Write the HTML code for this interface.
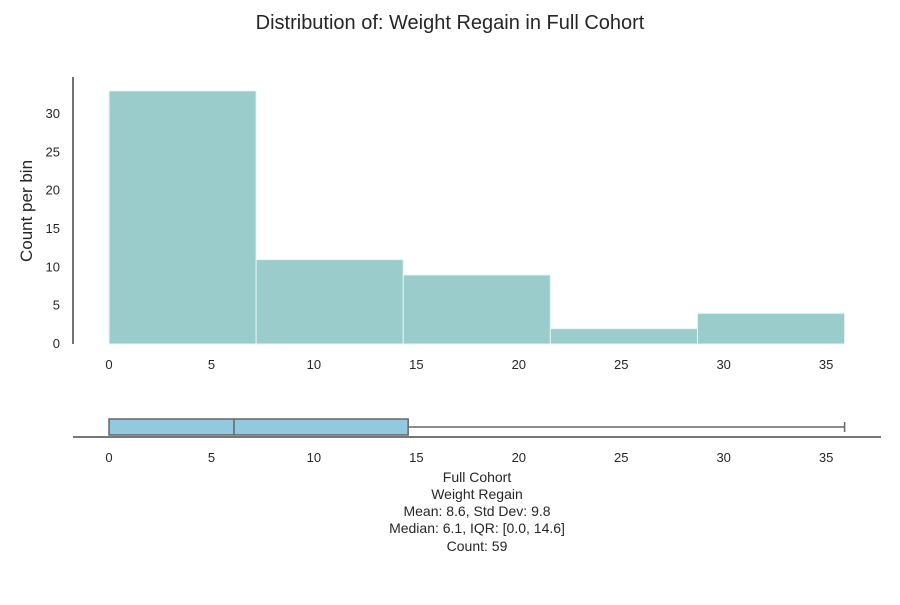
<!DOCTYPE html>
<html><head><meta charset="utf-8"><style>
body{margin:0;background:#fff;}
svg text{font-family:"Liberation Sans",Arial,sans-serif;fill:#262626;}
</style></head><body>
<svg id="chart" width="900" height="600" viewBox="0 0 900 600">
<rect width="900" height="600" fill="#fff"/>
<text x="450" y="29" font-size="20" text-anchor="middle">Distribution of: Weight Regain in Full Cohort</text>
<g id="hist"></g>
<g id="box"></g>
<g font-size="14" text-anchor="middle">
<text x="477" y="482">Full Cohort</text>
<text x="477" y="499">Weight Regain</text>
<text x="477" y="516">Mean: 8.6, Std Dev: 9.8</text>
<text x="477" y="533">Median: 6.1, IQR: [0.0, 14.6]</text>
<text x="477" y="551">Count: 59</text>
</g>
</svg>
<script>
const binEdges=[0,7.18,14.36,21.54,28.72,35.9];
const counts=[33,11,9,2,4];
const xTicks=[0,5,10,15,20,25,30,35];
const yTicks=[0,5,10,15,20,25,30];
const boxStats=[0,6.1,14.6,35.9]; // q1, median, q3, max
const minVal=[0];
const NS="http://www.w3.org/2000/svg";
const sx=v=>109+v*20.49;
const sy=v=>344-v*7.67;
function mk(p,tag,attrs,txt){const e=document.createElementNS(NS,tag);for(const k in attrs)e.setAttribute(k,attrs[k]);if(txt!==undefined)e.textContent=txt;p.appendChild(e);return e;}
const h=document.getElementById('hist');
counts.forEach((c,i)=>{
 const r=mk(h,'rect',{x:sx(binEdges[i]),y:sy(c),width:sx(binEdges[i+1])-sx(binEdges[i]),height:sy(0)-sy(c),fill:'#9acccc',stroke:'#e8f4f4','stroke-width':1});
 
 
});
const ya=mk(h,'line',{x1:73,y1:77,x2:73,y2:344,stroke:'#262626','stroke-width':1.3});


yTicks.forEach(t=>{
 const e=mk(h,'text',{x:60,y:sy(t)+4,'font-size':13,'text-anchor':'end'},t);
 
 
});
xTicks.forEach(t=>{
 const e=mk(h,'text',{x:sx(t),y:369,'font-size':13,'text-anchor':'middle'},t);
 
 
});
const yt=mk(h,'text',{x:32,y:211,'font-size':17,'text-anchor':'middle',transform:'rotate(-90 32 211)'},'Count per bin');


const b=document.getElementById('box');
const [q1,med,q3,mx]=boxStats;
const wl=mk(b,'line',{x1:sx(q3),y1:427,x2:sx(mx),y2:427,stroke:'#666','stroke-width':1.5});


const cap=mk(b,'line',{x1:sx(mx),y1:422,x2:sx(mx),y2:432,stroke:'#666','stroke-width':1.5});


const br=mk(b,'rect',{x:sx(q1),y:419,width:sx(q3)-sx(q1),height:16,fill:'#92c9df',stroke:'#666','stroke-width':1.5});


const ml=mk(b,'line',{x1:sx(med),y1:419,x2:sx(med),y2:435,stroke:'#666','stroke-width':1.5});


const bx=mk(b,'line',{x1:73,y1:437,x2:881,y2:437,stroke:'#262626','stroke-width':1.3});


xTicks.forEach(t=>{
 const e=mk(b,'text',{x:sx(t),y:462,'font-size':13,'text-anchor':'middle'},t);
 
 
});
</script>
</body></html>
